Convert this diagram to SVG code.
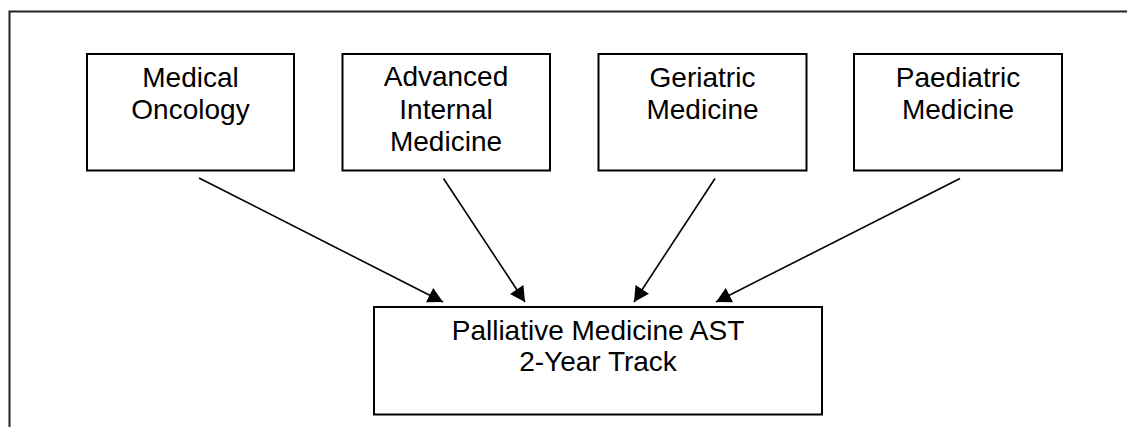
<svg xmlns="http://www.w3.org/2000/svg" width="1127" height="427" viewBox="0 0 1127 427">
<style>
.box{fill:#fff;stroke:#000;stroke-width:2}
.lbl{font-family:"Liberation Sans",Arial,sans-serif;font-size:28px;fill:#000;text-anchor:middle}
.conn{stroke:#000;stroke-width:1.6;fill:none;marker-end:url(#ah)}
</style>
<defs>
<marker id="ah" markerUnits="userSpaceOnUse" markerWidth="18" markerHeight="18" viewBox="0 0 18 18" refX="16" refY="9" orient="auto">
<path d="M1,1 L16,9 L1,17 Z" fill="#000"/>
</marker>
</defs>
<rect width="1127" height="427" fill="#fff"/>
<path d="M9.5,427 V11.5 H1127" fill="none" stroke="#222" stroke-width="2"/>
<g id="medical-oncology">
<rect class="box" x="87" y="54" width="207" height="116.5"/>
<text class="lbl" x="190.5" y="87">Medical</text>
<text class="lbl" x="190.5" y="119">Oncology</text>
</g>
<g id="advanced-internal-medicine">
<rect class="box" x="342.5" y="54" width="207.5" height="116.5"/>
<text class="lbl" x="446" y="86">Advanced</text>
<text class="lbl" x="446" y="118.5">Internal</text>
<text class="lbl" x="446" y="150.5">Medicine</text>
</g>
<g id="geriatric-medicine">
<rect class="box" x="598.5" y="54" width="208" height="116.5"/>
<text class="lbl" x="702.5" y="87">Geriatric</text>
<text class="lbl" x="702.5" y="119">Medicine</text>
</g>
<g id="paediatric-medicine">
<rect class="box" x="854" y="54" width="208" height="116.5"/>
<text class="lbl" x="958" y="87">Paediatric</text>
<text class="lbl" x="958" y="119">Medicine</text>
</g>
<g id="palliative-medicine">
<rect class="box" x="374" y="307" width="448" height="107.5"/>
<text class="lbl" x="598" y="340">Palliative Medicine AST</text>
<text class="lbl" x="598" y="371">2-Year Track</text>
</g>
<g id="connectors">
<line class="conn" x1="199" y1="178" x2="443" y2="302"/>
<line class="conn" x1="443.5" y1="178.5" x2="525" y2="302"/>
<line class="conn" x1="715" y1="178.5" x2="634" y2="302"/>
<line class="conn" x1="960" y1="178.5" x2="716" y2="302"/>
</g>
</svg>
